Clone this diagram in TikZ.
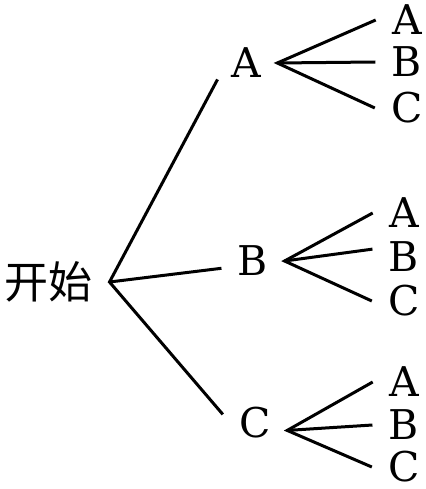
\documentclass[tikz,border=0pt]{standalone}
\usepackage{fontspec}
\setmainfont{DejaVu Serif}
\newfontfamily\cjk{Noto Sans CJK SC}

\begin{document}
\begin{tikzpicture}[x=1pt,y=-1pt,line width=3pt,
                    lbl/.style={inner sep=0pt,inner xsep=15pt,font=\fontsize{41}{41}\selectfont},
                    rt/.style={inner sep=0pt,inner xsep=15pt,font=\cjk\fontsize{44}{44}\selectfont}]
                    \useasboundingbox(0,0)rectangle(425,489);
                    \node[rt](S)at(49,282){开始};
                    \node[lbl](A)at(246,63){A};
                    \node[lbl](B)at(253,261){B};
                    \node[lbl](C)at(255,423){C};
                    \node[lbl](AA)at(407,20){A};
                    \node[lbl](AB)at(407,62){B};
                    \node[lbl](AC)at(407,108){C};
                    \node[lbl](BA)at(404,213){A};
                    \node[lbl](BB)at(404,257){B};
                    \node[lbl](BC)at(404,301){C};
                    \node[lbl](CA)at(404,382){A};
                    \node[lbl](CB)at(404,425){B};
                    \node[lbl](CC)at(404,467){C};
                    \draw(A.210)--(S.east)--(C.165);
                    \draw(S.east)--(B.193);
                    \draw(AA.west)--(A.east)--(AC.west);
                    \draw(A.east)--(AB.west);
                    \draw(BA.west)--(B.east)--(BC.west);
                    \draw(B.east)--(BB.166);
                    \draw(CA.west)--(C.-13)--(CC.west);
                    \draw(C.-13)--(CB.west);
                \end{tikzpicture}
\end{document}
